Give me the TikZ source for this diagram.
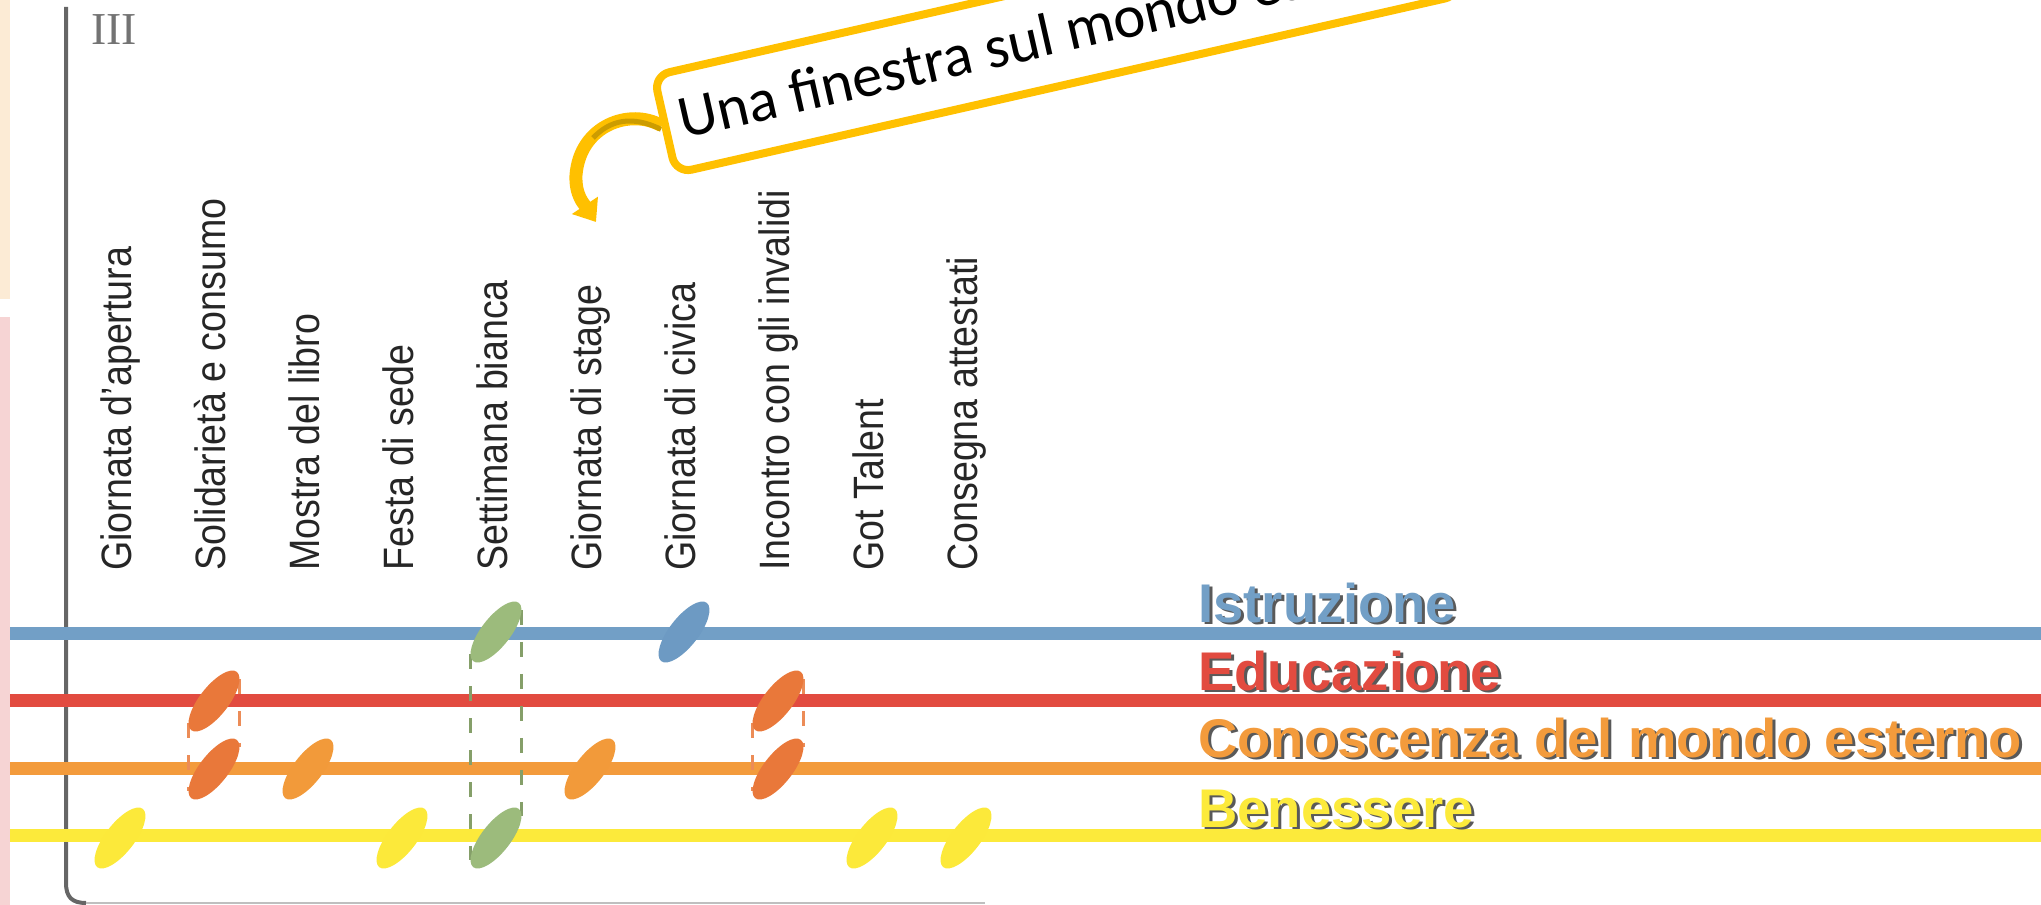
\documentclass[tikz,border=0pt]{standalone}
\usepackage{fontspec}
\usepackage{tikz}
\usetikzlibrary{shapes.geometric, arrows.meta, calc, backgrounds, positioning}

\newfontfamily\labelfont{Liberation Sans}
\newfontfamily\calloutfont{Carlito}
\newfontfamily\volfont{Liberation Serif}

\definecolor{istrblue}{HTML}{729FC6}
\definecolor{edured}{HTML}{E24B40}
\definecolor{conorange}{HTML}{F39B3C}
\definecolor{benyellow}{HTML}{FCEA3B}
\definecolor{leafgreen}{HTML}{9CBB7C}
\definecolor{leafblue}{HTML}{6D9AC3}
\definecolor{leafdark}{HTML}{E9783A}
\definecolor{leaforange}{HTML}{F29A3A}
\definecolor{leafyellow}{HTML}{FCE93A}
\definecolor{callgold}{HTML}{FFC000}
\definecolor{calldark}{HTML}{CC9C00}
\definecolor{stripa}{HTML}{FCEBD5}
\definecolor{stripb}{HTML}{F6D4D4}

\newdimen\pxu \pxu=0.02cm

% text with a small grey drop shadow
\newcommand{\shadowed}[1]{\makebox[0pt][l]{\hspace{1.7pt}\raisebox{-1.7pt}{\textcolor{black!65}{#1}}}#1}

\begin{document}
\begin{tikzpicture}[x=0.02cm, y=-0.02cm,
    track/.style={line width=13\pxu},
    leaf/.style={ellipse, minimum width=74\pxu, minimum height=29\pxu, inner sep=0pt, outer sep=0pt, rotate=52},
    side/.style={line width=3\pxu, dash pattern=on 15\pxu off 17\pxu},
    event/.style={rotate=90, yscale=1.13, anchor=base west, inner sep=0pt, text=black!85, font=\labelfont\fontsize{21.4}{24}\selectfont},
    category/.style={anchor=base west, inner sep=0pt, font=\labelfont\bfseries\fontsize{31}{34}\selectfont}]

    \useasboundingbox (0,0) rectangle (2041,905);
    \clip (0,0) rectangle (2041,905);

    % activities along the year
    \foreach \name/\txt [count=\i from 0] in {apertura/Giornata d’apertura, solidarieta/Solidarietà e consumo,
        libro/Mostra del libro, festa/Festa di sede, bianca/Settimana bianca, stage/Giornata di stage,
        civica/Giornata di civica, invalidi/Incontro con gli invalidi, talent/Got Talent, attestati/Consegna attestati}
        \node[event] (\name) at (131+94*\i, 571) {\txt};

    \node[text=black!55, inner sep=0pt, font=\volfont\fontsize{26}{28}\selectfont] (vol) at (114,30) {III};

    % marks on the tracks
    \node[leaf, fill=leafyellow] (apertura-ben)  at (120,838) {};
    \node[leaf, fill=leafdark]   (solid-edu)     at (214,701) {};
    \node[leaf, fill=leafdark]   (solid-con)     at (214,769) {};
    \node[leaf, fill=leaforange] (libro-con)     at (308,769) {};
    \node[leaf, fill=leafyellow] (festa-ben)     at (402,838) {};
    \node[leaf, fill=leafgreen]  (bianca-ist)    at (496,632) {};
    \node[leaf, fill=leafgreen]  (bianca-ben)    at (496,838) {};
    \node[leaf, fill=leaforange] (stage-con)     at (590,769) {};
    \node[leaf, fill=leafblue]   (civica-ist)    at (684,632) {};
    \node[leaf, fill=leafdark]   (invalidi-edu)  at (778,701) {};
    \node[leaf, fill=leafdark]   (invalidi-con)  at (778,769) {};
    \node[leaf, fill=leafyellow] (talent-ben)    at (872,838) {};
    \node[leaf, fill=leafyellow] (attestati-ben) at (966,838) {};

    \node[category, text=istrblue]  (istruzione) at (1198,622) {\shadowed{Istruzione}};
    \node[category, text=edured]    (educazione) at (1198,690) {\shadowed{Educazione}};
    \node[category, text=conorange] (conoscenza) at (1198,757) {\shadowed{Conoscenza del mondo esterno}};
    \node[category, text=benyellow] (benessere)  at (1198,827) {\shadowed{Benessere}};

    \node[draw=callgold, line width=8\pxu, fill=white, rounded corners=16\pxu, rotate=12.8, anchor=south west,
        minimum height=100\pxu, inner xsep=15\pxu, inner ysep=0pt, text depth=6\pxu,
        font=\calloutfont\fontsize{34.5}{38}\selectfont] (finestra) at (673,178) {Una finestra sul mondo esterno};

    \begin{scope}[on background layer]
        \fill[stripa] (0,0) rectangle (10,299);
        \fill[stripb] (0,317) rectangle (10,905);
        \draw[black!60, line width=4\pxu] (66,7) -- (66,883) .. controls (66,897) and (72,903) .. (86,903);
        \draw[black!25, line width=2.5\pxu] (86,903) -- (985,903);
        \foreach \y/\col in {633/istrblue, 700/edured, 768/conorange, 835/benyellow}
            \draw[track, \col] (10,\y) -- (2041,\y);
        \draw[side, leafdark!85] (solid-edu.169) -- (solid-con.169);
        \draw[side, leafdark!85] (solid-edu.349) -- (solid-con.349);
        \draw[side, leafdark!85] (invalidi-edu.169) -- (invalidi-con.169);
        \draw[side, leafdark!85] (invalidi-edu.349) -- (invalidi-con.349);
        \draw[side, leafgreen!85!black] (bianca-ist.169) -- (bianca-ben.169);
        \draw[side, leafgreen!85!black] (bianca-ist.349) -- (bianca-ben.349);
        % curved arrow of the callout
        \draw[line width=13\pxu, callgold, -{Triangle[width=0.6cm, length=0.4cm]}]
            (finestra.west) .. controls (630,108) and (580,125) .. (576,175)
            .. controls (575,195) and (584,204) .. (596,222);
        \draw[line width=5\pxu, calldark] ($(finestra.west)+(0,4)$) .. controls (632,115) and (610,120) .. (593,138);
    \end{scope}
\end{tikzpicture}
\end{document}
